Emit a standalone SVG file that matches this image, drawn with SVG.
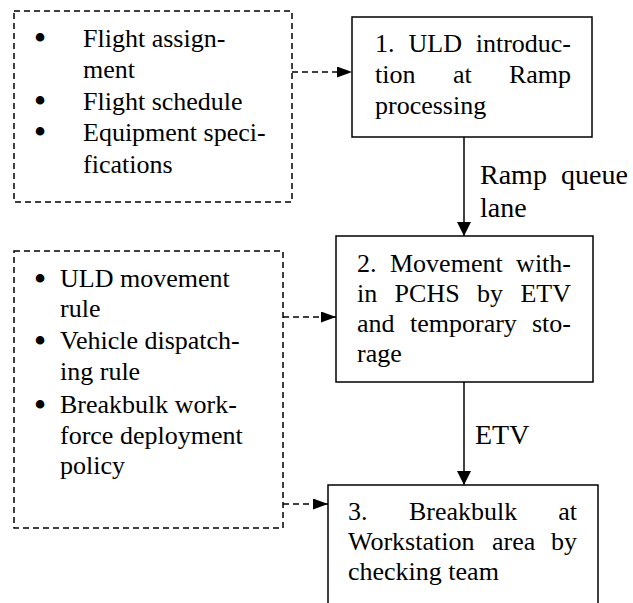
<svg xmlns="http://www.w3.org/2000/svg" width="633" height="603" viewBox="0 0 633 603">
<style>
  text { font-family: "Liberation Serif", "Times New Roman", serif; fill: #000; }
  .t { font-size: 26px; }
  .b { font-size: 36px; text-anchor: middle; }
  .lbl { font-size: 28px; }
  .box { fill: #fff; stroke: #000; stroke-width: 1.5; }
  .dbox { fill: none; stroke: #000; stroke-width: 1.5; stroke-dasharray: 6 4; }
  .dline { fill: none; stroke: #000; stroke-width: 1.5; stroke-dasharray: 6 4; }
  .sline { fill: none; stroke: #000; stroke-width: 1.5; }
  .e { text-anchor: end; }
</style>
<defs>
  <marker id="hd" markerUnits="userSpaceOnUse" markerWidth="15" markerHeight="11" refX="15" refY="5.5" orient="auto">
    <path d="M0,0 L15,5.5 L0,11 z" fill="#000"/>
  </marker>
  <marker id="hs" markerUnits="userSpaceOnUse" markerWidth="14" markerHeight="14" refX="14" refY="7" orient="auto">
    <path d="M0,0 L14,7 L0,14 z" fill="#000"/>
  </marker>
</defs>
<rect width="633" height="603" fill="#fff"/>

<g id="inputs1">
  <rect class="dbox" x="14" y="11" width="278" height="191"/>
  <text class="b" x="40" y="50">•</text>
  <text class="t" x="83" y="47">Flight assign-</text>
  <text class="t" x="83" y="78">ment</text>
  <text class="b" x="40" y="113">•</text>
  <text class="t" x="83" y="110">Flight schedule</text>
  <text class="b" x="40" y="144">•</text>
  <text class="t" x="83" y="141">Equipment speci-</text>
  <text class="t" x="83" y="173">fications</text>
</g>

<g id="inputs2">
  <rect class="dbox" x="14" y="251" width="269" height="277"/>
  <text class="b" x="40" y="291">•</text>
  <text class="t" x="60" y="287">ULD movement</text>
  <text class="t" x="60" y="317">rule</text>
  <text class="b" x="40" y="353">•</text>
  <text class="t" x="60" y="349">Vehicle dispatch-</text>
  <text class="t" x="60" y="380">ing rule</text>
  <text class="b" x="40" y="417">•</text>
  <text class="t" x="60" y="413">Breakbulk work-</text>
  <text class="t" x="60" y="444">force deployment</text>
  <text class="t" x="60" y="474">policy</text>
</g>

<g id="step1">
  <rect class="box" x="352" y="17" width="240" height="120"/>
  <text class="t" x="375" y="52">1.</text>
  <text class="t" x="408.5" y="52">ULD</text>
  <text class="t e" x="571" y="52">introduc-</text>
  <text class="t" x="375" y="83">tion</text>
  <text class="t" x="453" y="83">at</text>
  <text class="t e" x="571" y="83">Ramp</text>
  <text class="t" x="375" y="114">processing</text>
</g>

<g id="step2">
  <rect class="box" x="336" y="236" width="257" height="146"/>
  <text class="t" x="357" y="272">2.</text>
  <text class="t" x="390" y="272">Movement</text>
  <text class="t e" x="571" y="272">with-</text>
  <text class="t" x="357" y="302">in</text>
  <text class="t" x="394.6" y="302">PCHS</text>
  <text class="t" x="477" y="302">by</text>
  <text class="t e" x="571" y="302">ETV</text>
  <text class="t" x="357" y="332">and</text>
  <text class="t" x="410" y="332">temporary</text>
  <text class="t e" x="571" y="332">sto-</text>
  <text class="t" x="357" y="362">rage</text>
</g>

<g id="step3">
  <rect class="box" x="328" y="485" width="270" height="140"/>
  <text class="t" x="348" y="520">3.</text>
  <text class="t" x="409" y="520">Breakbulk</text>
  <text class="t e" x="577" y="520">at</text>
  <text class="t" x="348" y="550">Workstation</text>
  <text class="t" x="492" y="550">area</text>
  <text class="t e" x="577" y="550">by</text>
  <text class="t" x="348" y="580">checking team</text>
</g>

<g id="connectors">
  <line class="dline" x1="292" y1="72" x2="352" y2="72" marker-end="url(#hd)"/>
  <line class="dline" x1="283" y1="317" x2="336" y2="317" marker-end="url(#hd)"/>
  <line class="dline" x1="283" y1="504" x2="328" y2="504" marker-end="url(#hd)"/>
  <line class="sline" x1="464" y1="137" x2="464" y2="236" marker-end="url(#hs)"/>
  <line class="sline" x1="464" y1="382" x2="464" y2="485" marker-end="url(#hs)"/>
  <text class="lbl" x="480" y="184">Ramp</text>
  <text class="lbl" x="561" y="184">queue</text>
  <text class="lbl" x="480" y="217">lane</text>
  <text class="lbl" x="475" y="444">ETV</text>
</g>
</svg>
